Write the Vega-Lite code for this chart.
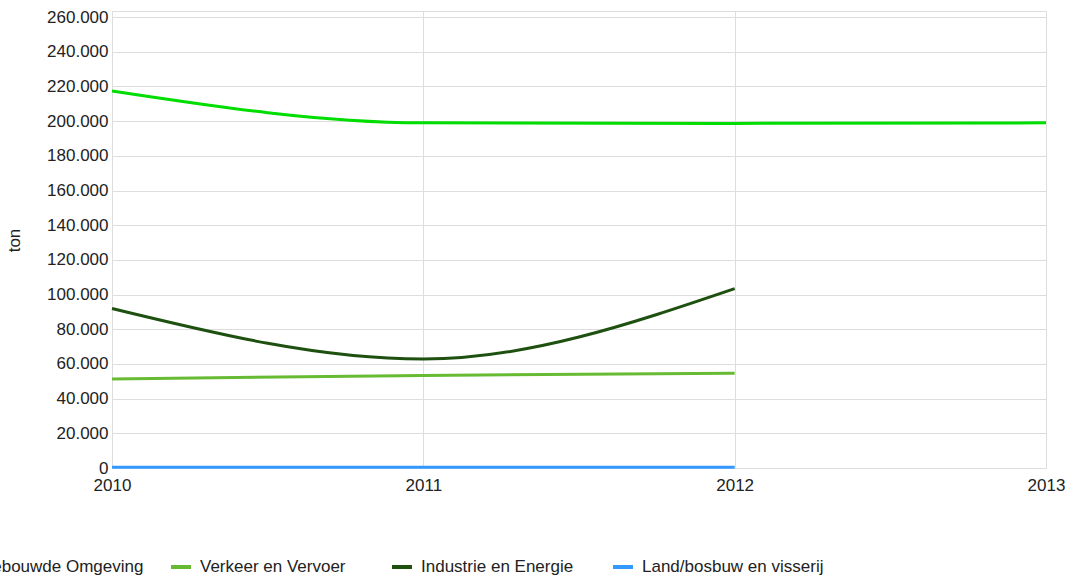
{
  "$schema": "https://vega.github.io/schema/vega-lite/v6.json",
  "width": 934,
  "height": 457,
  "autosize": "none",
  "padding": {"left": 112, "top": 11, "right": 25, "bottom": 108},
  "background": "white",
  "config": {
    "locale": {"number": {"decimal": ",", "thousands": ".", "grouping": [3], "currency": ["€", ""]}},
    "view": {"stroke": "#dddddd", "strokeWidth": 1},
    "font": "Liberation Sans"
  },
  "data": {
    "values": [
      {"jaar": 2010, "sector": "Gebouwde Omgeving", "ton": 217400},
      {"jaar": 2011, "sector": "Gebouwde Omgeving", "ton": 199000},
      {"jaar": 2012, "sector": "Gebouwde Omgeving", "ton": 198700},
      {"jaar": 2013, "sector": "Gebouwde Omgeving", "ton": 199000},
      {"jaar": 2010, "sector": "Verkeer en Vervoer", "ton": 51300},
      {"jaar": 2011, "sector": "Verkeer en Vervoer", "ton": 53400},
      {"jaar": 2012, "sector": "Verkeer en Vervoer", "ton": 54600},
      {"jaar": 2010, "sector": "Industrie en Energie", "ton": 92000},
      {"jaar": 2011, "sector": "Industrie en Energie", "ton": 62800},
      {"jaar": 2012, "sector": "Industrie en Energie", "ton": 103400},
      {"jaar": 2010, "sector": "Land/bosbuw en visserij", "ton": 400},
      {"jaar": 2011, "sector": "Land/bosbuw en visserij", "ton": 400},
      {"jaar": 2012, "sector": "Land/bosbuw en visserij", "ton": 400}
    ]
  },
  "mark": {"type": "line", "interpolate": "monotone", "strokeWidth": 3, "clip": false},
  "encoding": {
    "x": {
      "field": "jaar", "type": "quantitative",
      "scale": {"domain": [2010, 2013], "nice": false, "zero": false},
      "axis": {
        "values": [2010, 2011, 2012, 2013], "format": "d", "title": null,
        "domain": false, "ticks": false, "tickSize": 0, "labelPadding": 9,
        "grid": true, "gridColor": "#dddddd", "gridWidth": 1,
        "labelFont": "Liberation Sans", "labelFontSize": 17, "labelColor": "#222222",
        "labelFlush": false, "labelOverlap": false
      }
    },
    "y": {
      "field": "ton", "type": "quantitative",
      "scale": {"domain": [0, 263500], "nice": false},
      "axis": {
        "values": [0, 20000, 40000, 60000, 80000, 100000, 120000, 140000, 160000, 180000, 200000, 220000, 240000, 260000],
        "format": ",d", "title": "ton",
        "domain": false, "ticks": false, "tickSize": 0, "labelPadding": 4,
        "grid": true, "gridColor": "#dddddd", "gridWidth": 1,
        "labelFont": "Liberation Sans", "labelFontSize": 17, "labelColor": "#222222",
        "labelOverlap": false, "labelFlush": false,
        "titleFont": "Liberation Sans", "titleFontSize": 17, "titleFontWeight": "normal", "titleColor": "#222222",
        "titleAngle": -90, "titleX": -98, "titleY": 229, "titleAlign": "center", "titleBaseline": "middle"
      }
    },
    "color": {
      "field": "sector", "type": "nominal",
      "sort": ["Gebouwde Omgeving", "Verkeer en Vervoer", "Industrie en Energie", "Land/bosbuw en visserij"],
      "scale": {
        "domain": ["Gebouwde Omgeving", "Verkeer en Vervoer", "Industrie en Energie", "Land/bosbuw en visserij"],
        "range": ["#00dd00", "#66bb33", "#1e5010", "#3399ff"]
      },
      "legend": {
        "title": null, "orient": "none", "direction": "horizontal", "columns": 4,
        "legendX": -164, "legendY": 544, "gridAlign": "all", "columnPadding": 2,
        "symbolType": "stroke", "symbolSize": 400, "symbolStrokeWidth": 4,
        "labelOffset": 7, "labelFont": "Liberation Sans", "labelFontSize": 17,
        "labelColor": "#222222", "labelLimit": 400
      }
    }
  }
}
